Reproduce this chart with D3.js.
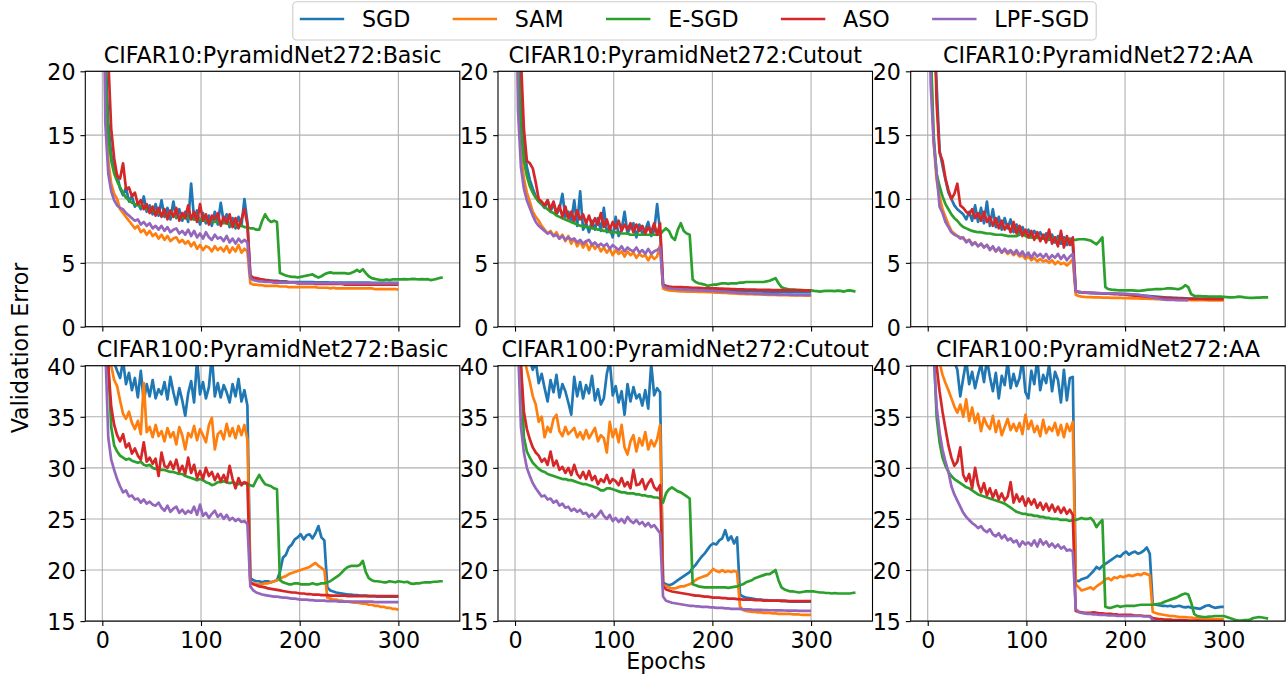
<!DOCTYPE html>
<html><head><meta charset="utf-8">
<script src="https://cdn.jsdelivr.net/npm/d3@7"></script>
<style>body{margin:0;background:#fff}</style>
</head><body>
<svg id="chart" width="1286" height="674"></svg>
<script>
// ---------------- data ----------------
const methods = ["SGD","SAM","E-SGD","ASO","LPF-SGD"];
const colors = ["#1f77b4","#ff7f0e","#2ca02c","#d62728","#9467bd"];
const titles = ["CIFAR10:PyramidNet272:Basic","CIFAR10:PyramidNet272:Cutout","CIFAR10:PyramidNet272:AA",
                "CIFAR100:PyramidNet272:Basic","CIFAR100:PyramidNet272:Cutout","CIFAR100:PyramidNet272:AA"];
const xTicks = [0,100,200,300];
const yTicksC10 = [0,5,10,15,20];
const yTicksC100 = [15,20,25,30,35,40];
const yDomainC10 = [0,20];
const yDomainC100 = [15,40];
const STEP = 3; // epochs between stored samples (value i is epoch 3*i)

// CIFAR10 Basic
const c10b_sgd = [45,22,16,13.5,12.2,11.9,10.8,10.3,10.9,9.8,
10.2,9.4,9.7,9.2,10.2,9.0,9.5,8.8,9.6,8.7,
9.9,8.6,9.3,8.4,9.8,8.5,9.2,8.3,9.0,8.2,
11.2,8.4,9.1,8.0,8.9,8.1,8.7,7.9,9.0,8.0,
9.7,8.2,8.8,7.8,8.5,7.7,8.6,7.9,10.0,8.2,
4.0,3.8,3.75,3.7,3.7,3.65,3.65,3.6,3.6,3.6,
3.55,3.55,3.55,3.5,3.5,3.5,3.5,3.5,3.5,3.5,
3.5,3.5,3.48,3.48,3.47,3.47,3.47,3.46,3.46,3.46,
3.45,3.45,3.45,3.45,3.45,3.45,3.45,3.45,3.45,3.45,
3.45,3.44,3.44,3.44,3.44,3.44,3.44,3.44,3.44,3.44,
3.44];
const c10b_sam = [42,18,13.0,11.2,10.4,10.0,9.2,8.9,8.6,8.3,
8.0,7.7,7.9,7.4,7.6,7.2,7.5,7.1,7.3,6.9,
7.2,6.8,7.1,6.7,6.9,7.0,6.6,6.8,6.5,6.7,
6.3,6.6,6.1,6.4,6.0,6.3,6.2,5.9,6.3,6.0,
6.2,5.9,6.3,5.8,6.2,5.9,6.4,5.8,6.1,5.9,
3.4,3.3,3.3,3.25,3.25,3.2,3.2,3.2,3.2,3.2,
3.15,3.15,3.15,3.1,3.1,3.1,3.1,3.1,3.1,3.1,
3.1,3.1,3.1,3.05,3.05,3.05,3.05,3.0,3.05,3.0,
3.0,3.0,3.0,3.0,3.0,3.0,3.0,3.0,3.0,3.0,
3.0,3.0,2.95,2.95,2.95,2.95,2.95,2.95,2.95,2.95,
2.9];
const c10b_esgd = [45,20,15,13.0,12.0,11.4,10.9,10.5,10.1,9.9,
9.7,9.6,9.5,9.4,9.3,9.2,9.1,9.1,9.0,8.9,
8.9,8.8,8.8,8.7,8.7,8.6,8.6,8.6,8.5,8.5,
8.5,8.4,8.4,8.4,8.3,8.3,8.3,8.2,8.2,8.2,
8.1,8.1,8.1,8.0,8.0,7.9,7.9,7.9,7.8,7.8,
7.7,7.7,7.6,7.6,8.3,8.8,8.4,8.2,8.3,8.2,
4.2,4.1,4.0,3.95,3.9,3.9,3.85,3.9,3.95,4.0,
4.05,4.1,3.95,3.85,3.95,4.1,4.2,4.25,4.2,4.2,
4.2,4.2,4.2,4.15,4.2,4.3,4.45,4.3,4.5,4.2,
3.95,3.8,3.75,3.7,3.65,3.65,3.7,3.65,3.7,3.7,
3.7,3.7,3.72,3.7,3.72,3.75,3.72,3.7,3.72,3.7,
3.72,3.65,3.7,3.75,3.82,3.85];
const c10b_aso = [50,30,21,15.5,13.2,11.8,11.6,12.8,10.8,10.9,
10.2,10.5,9.6,9.9,9.2,9.6,8.9,9.4,8.7,9.3,
8.6,9.2,8.4,9.1,8.6,9.3,8.3,8.9,8.5,9.5,
8.4,9.0,8.2,9.6,8.3,8.8,8.0,8.7,8.4,8.9,
7.9,8.6,8.1,8.8,7.8,8.5,7.7,8.4,9.2,8.0,
4.0,3.85,3.8,3.75,3.7,3.65,3.6,3.6,3.55,3.55,
3.5,3.5,3.5,3.45,3.45,3.45,3.4,3.4,3.4,3.4,
3.4,3.4,3.35,3.35,3.35,3.35,3.35,3.35,3.35,3.35,
3.35,3.35,3.3,3.3,3.3,3.3,3.3,3.3,3.3,3.3,
3.3,3.3,3.3,3.3,3.3,3.3,3.3,3.3,3.3,3.3,
3.3];
const c10b_lpf = [40,16,12.0,10.6,9.9,9.5,9.3,9.2,8.9,8.7,
8.5,8.3,8.4,8.0,8.2,7.9,8.1,7.7,7.9,7.6,
7.9,7.5,7.8,7.4,7.6,7.7,7.3,7.5,7.2,7.6,
7.1,7.5,7.0,7.3,6.9,7.4,7.0,6.8,7.2,6.9,
7.0,6.7,7.1,6.6,6.9,6.5,6.9,6.6,6.8,6.6,
3.8,3.65,3.6,3.55,3.55,3.5,3.5,3.5,3.45,3.45,
3.45,3.45,3.45,3.45,3.45,3.45,3.42,3.42,3.42,3.42,
3.42,3.42,3.42,3.42,3.42,3.42,3.42,3.42,3.42,3.42,
3.4,3.4,3.4,3.4,3.4,3.4,3.4,3.4,3.4,3.4,
3.4,3.4,3.4,3.4,3.4,3.4,3.4,3.4,3.4,3.4,
3.4];

// CIFAR10 Cutout
const c10c_sgd = [45,25,17,14,12.5,11.5,10.8,10.2,9.8,9.6,
9.3,9.9,9.0,9.7,8.8,9.2,10.4,8.6,9.0,8.2,
9.9,7.9,10.6,7.6,8.1,7.4,8.3,7.6,8.5,7.5,
9.3,7.4,7.8,7.0,8.6,7.1,7.6,9.0,7.3,7.8,
8.1,7.0,8.0,7.3,7.6,8.2,7.1,7.5,9.6,7.4,
3.3,3.15,3.1,3.05,3.05,3.0,3.0,3.0,2.98,2.97,
2.95,2.95,2.93,2.92,2.9,2.9,2.9,2.88,2.87,2.86,
2.85,2.85,2.84,2.83,2.82,2.82,2.8,2.8,2.79,2.78,
2.78,2.77,2.76,2.76,2.75,2.75,2.74,2.74,2.73,2.73,
2.72,2.72,2.72,2.71,2.71,2.7,2.7,2.7,2.7,2.7,
2.7];
const c10c_sam = [42,19,13.5,11.6,10.5,9.8,9.0,8.6,8.3,7.9,
7.6,7.3,7.5,7.1,7.4,6.9,7.2,6.7,7.1,6.5,
6.9,6.3,6.7,6.2,6.6,6.0,6.5,6.1,6.4,5.9,
6.2,5.8,6.1,5.6,6.0,5.7,5.9,5.5,5.9,5.6,
5.8,5.4,5.7,5.5,5.6,5.2,5.6,5.3,5.5,6.4,
3.0,2.9,2.85,2.82,2.8,2.78,2.77,2.76,2.75,2.75,
2.75,2.74,2.73,2.72,2.72,2.7,2.7,2.68,2.67,2.66,
2.65,2.64,2.62,2.6,2.6,2.58,2.57,2.56,2.55,2.55,
2.54,2.53,2.52,2.52,2.51,2.5,2.5,2.49,2.49,2.48,
2.48,2.47,2.47,2.46,2.46,2.45,2.45,2.45,2.44,2.44,
2.44];
const c10c_esgd = [45,22,15.5,13.0,11.8,11.0,10.5,10.1,9.8,9.6,
9.4,9.2,9.0,8.9,8.7,8.6,8.5,8.4,8.3,8.2,
8.1,8.0,7.9,7.9,7.8,7.8,7.7,7.7,7.6,7.6,
7.5,7.5,7.4,7.4,7.4,7.3,7.3,7.3,7.3,7.2,
7.2,7.2,7.2,7.2,7.2,7.2,7.2,7.2,7.2,7.2,
7.5,7.7,7.5,7.0,6.8,7.6,8.1,7.5,7.3,7.2,
3.7,3.5,3.4,3.35,3.3,3.2,3.25,3.3,3.3,3.35,
3.4,3.4,3.35,3.4,3.4,3.4,3.45,3.45,3.5,3.5,
3.5,3.5,3.5,3.5,3.5,3.55,3.6,3.7,3.8,3.4,
3.1,3.0,2.95,2.9,2.9,2.88,2.87,2.86,2.85,2.85,
2.85,2.8,2.78,2.75,2.78,2.8,2.8,2.8,2.78,2.82,
2.8,2.75,2.82,2.85,2.8,2.75];
const c10c_aso = [50,32,21,15.5,13.0,12.8,12.4,11.3,10.0,9.8,
9.5,9.9,9.2,9.8,8.9,9.5,8.6,9.4,8.5,9.0,
8.3,9.1,8.4,8.8,8.1,8.7,7.9,8.5,8.0,8.9,
7.8,8.4,7.6,8.2,7.7,8.3,7.5,8.0,7.6,8.1,
7.4,8.0,7.5,7.9,7.3,7.8,7.4,8.1,7.2,8.1,
3.3,3.2,3.15,3.12,3.1,3.1,3.1,3.08,3.08,3.07,
3.05,3.05,3.05,3.03,3.0,3.0,3.0,3.0,3.0,2.98,
2.98,2.97,2.96,2.95,2.94,2.93,2.92,2.92,2.91,2.9,
2.9,2.9,2.89,2.89,2.88,2.88,2.88,2.87,2.87,2.87,
2.87,2.86,2.86,2.86,2.86,2.86,2.86,2.85,2.85,2.85,
2.85];
const c10c_lpf = [40,17,12.5,10.8,9.9,9.3,8.7,8.2,7.9,7.7,
7.5,7.3,7.4,7.1,7.2,6.9,7.1,6.8,7.0,6.8,
6.9,6.6,6.8,6.5,6.7,6.8,6.4,6.6,6.3,6.5,
6.3,6.5,6.1,6.4,6.2,6.0,6.3,5.9,6.2,6.0,
5.9,6.2,5.8,6.0,5.7,6.1,5.7,5.9,6.0,6.2,
3.2,3.05,3.0,2.97,2.95,2.93,2.92,2.9,2.9,2.88,
2.87,2.86,2.85,2.84,2.83,2.82,2.8,2.8,2.78,2.77,
2.75,2.74,2.72,2.7,2.68,2.66,2.65,2.63,2.62,2.6,
2.6,2.59,2.58,2.57,2.56,2.55,2.55,2.54,2.53,2.53,
2.52,2.52,2.51,2.51,2.5,2.5,2.5,2.5,2.5,2.5,
2.5];

// CIFAR10 AA
const c10a_sgd = [60,35,24,19,13.8,12.6,11.5,10.5,10.0,9.5,
9.2,9.0,8.8,8.4,9.0,8.3,9.5,8.2,9.3,8.1,
9.8,7.9,9.2,7.8,8.6,7.6,8.5,7.7,8.4,7.4,
8.0,7.3,7.8,7.2,7.6,7.0,7.5,7.1,7.4,6.9,
7.3,6.8,7.2,6.6,7.1,6.5,7.0,6.4,6.9,6.3,
2.8,2.7,2.68,2.66,2.65,2.64,2.63,2.62,2.62,2.61,
2.6,2.6,2.6,2.6,2.58,2.57,2.56,2.55,2.54,2.52,
2.5,2.48,2.46,2.44,2.42,2.4,2.38,2.36,2.34,2.32,
2.3,2.28,2.27,2.26,2.25,2.24,2.23,2.22,2.21,2.2,
2.2,2.2,2.19,2.19,2.18,2.18,2.17,2.17,2.16,2.16,
2.15];
const c10a_sam = [44,21,14.5,11.5,10.2,9.2,8.6,8.0,7.5,7.3,
7.1,7.0,6.9,6.7,6.8,6.5,6.6,6.3,6.5,6.2,
6.4,6.1,6.2,5.9,6.1,5.8,6.0,5.7,5.9,5.6,
5.8,5.5,5.6,5.3,5.5,5.2,5.4,5.1,5.3,5.1,
5.2,5.0,5.2,4.9,5.1,4.9,5.0,4.8,5.0,5.3,
2.5,2.4,2.35,2.33,2.32,2.31,2.3,2.3,2.29,2.28,
2.28,2.27,2.26,2.26,2.25,2.25,2.24,2.24,2.23,2.22,
2.22,2.21,2.2,2.2,2.19,2.18,2.17,2.16,2.15,2.15,
2.14,2.13,2.12,2.12,2.11,2.1,2.1,2.09,2.09,2.08,
2.08,2.08,2.07,2.07,2.07,2.06,2.06,2.06,2.05,2.05,
2.05];
const c10a_esgd = [45,22,15,12.0,11.0,10.2,9.6,9.2,8.8,8.5,
8.3,8.0,7.8,7.7,7.6,7.5,7.45,7.4,7.4,7.35,
7.3,7.3,7.25,7.2,7.2,7.2,7.15,7.1,7.1,7.1,
7.1,7.2,7.4,7.1,7.0,7.0,7.0,6.95,6.95,6.9,
6.9,6.9,6.9,6.85,6.85,6.85,6.8,6.8,6.8,6.8,
6.8,6.85,6.85,6.85,6.8,6.75,6.6,6.45,6.7,7.0,
3.1,2.95,2.9,2.88,2.86,2.85,2.85,2.85,2.84,2.84,
2.82,2.8,2.82,2.85,2.88,2.9,2.92,2.95,2.95,2.95,
2.97,3.0,3.0,2.98,2.95,2.95,3.05,3.25,3.1,2.55,
2.42,2.4,2.4,2.38,2.37,2.36,2.36,2.35,2.35,2.35,
2.34,2.32,2.3,2.3,2.32,2.35,2.34,2.3,2.27,2.25,
2.25,2.27,2.28,2.3,2.3,2.3];
const c10a_aso = [55,38,26,17.5,13.6,13.0,11.6,10.7,10.0,10.4,
11.2,9.5,9.3,9.0,8.8,9.2,8.5,8.9,8.3,9.0,
8.2,8.6,7.9,8.5,7.7,8.3,7.6,8.0,7.4,8.2,
7.3,7.9,7.1,7.6,7.0,7.5,6.8,7.4,6.7,7.2,
6.6,7.6,6.5,7.0,6.3,7.5,6.2,7.1,6.4,7.0,
2.8,2.72,2.7,2.68,2.66,2.65,2.64,2.63,2.62,2.61,
2.6,2.58,2.56,2.55,2.54,2.53,2.52,2.5,2.48,2.46,
2.44,2.42,2.4,2.38,2.36,2.34,2.32,2.3,2.28,2.26,
2.25,2.24,2.23,2.22,2.21,2.2,2.2,2.19,2.19,2.18,
2.18,2.17,2.17,2.17,2.16,2.16,2.16,2.15,2.15,2.15,
2.15];
const c10a_lpf = [42,19,14.5,12.0,9.4,8.9,8.2,7.8,7.4,7.2,
7.1,6.9,7.0,6.6,6.8,6.4,6.6,6.3,6.5,6.2,
6.4,6.0,6.3,5.9,6.2,5.8,6.1,5.8,6.0,5.7,
6.0,5.6,5.9,5.5,5.8,5.4,5.8,5.5,5.7,5.4,
5.7,5.3,5.6,5.4,5.7,5.3,5.6,5.2,5.5,5.7,
2.8,2.72,2.7,2.68,2.66,2.65,2.65,2.64,2.63,2.62,
2.62,2.61,2.6,2.6,2.59,2.58,2.57,2.56,2.55,2.54,
2.52,2.5,2.47,2.43,2.4,2.35,2.3,2.25,2.2,2.15,
2.12,2.1,2.1,2.09,2.08,2.08,2.07,2.07,2.06];

// CIFAR100 Basic
const c100b_sgd = [90,60,47,42,40.3,39.5,38.8,40.5,38.2,39.3,
37.6,38.8,36.9,39.5,36.5,38.2,37.0,38.6,36.8,37.7,
37.2,38.4,36.7,38.9,37.4,36.2,37.8,36.6,35.1,37.3,
38.5,36.4,40.6,37.2,38.4,36.8,37.9,41.0,37.0,38.3,
36.9,38.1,37.4,36.4,38.2,37.0,38.7,36.5,37.6,36.1,
19.2,19.0,18.9,18.9,18.8,18.9,18.9,18.8,18.9,19.0,
19.8,21.2,21.5,22.2,22.5,23.0,23.2,23.5,23.0,23.4,
23.5,23.1,23.6,24.3,23.2,22.9,18.3,18.0,17.9,17.8,
17.75,17.7,17.65,17.6,17.6,17.55,17.55,17.5,17.5,17.5,
17.45,17.45,17.45,17.4,17.4,17.4,17.4,17.4,17.4,17.4,
17.4];
const c100b_sam = [80,52,43,40,38.6,38.0,36.6,35.3,34.8,35.5,
34.4,33.8,34.6,33.3,38.3,33.5,34.0,33.0,34.2,33.1,
33.6,32.6,33.9,33.0,33.5,32.3,34.0,33.2,31.8,33.4,
33.0,34.1,32.7,33.8,33.2,32.5,34.2,34.9,31.8,33.3,
33.6,32.8,34.3,33.1,33.9,32.9,34.1,33.2,34.2,32.8,
18.8,18.7,18.6,18.6,18.6,18.7,18.7,18.8,18.9,19.0,
19.1,19.3,19.4,19.6,19.7,19.8,19.9,20.0,20.1,20.2,
20.3,20.5,20.7,20.4,20.2,20.0,17.3,17.2,17.1,17.1,
17.0,17.0,16.9,16.9,16.85,16.8,16.8,16.75,16.7,16.7,
16.6,16.6,16.5,16.5,16.4,16.4,16.3,16.3,16.2,16.2,
16.1];
const c100b_esgd = [90,55,40,34.0,32.2,31.6,31.2,31.0,30.8,30.9,
30.7,30.6,30.5,30.6,30.3,30.2,30.3,30.0,29.9,29.9,
29.8,29.8,29.7,29.6,29.6,29.5,29.4,29.4,29.2,29.1,
29.0,28.9,28.8,28.9,28.8,28.6,28.5,28.3,28.4,28.6,
28.6,28.7,28.6,28.5,28.6,28.5,28.4,28.5,28.5,28.4,
28.3,28.2,28.8,29.3,28.8,28.4,28.3,28.2,28.0,27.9,
19.0,18.8,18.7,18.6,18.6,18.7,18.7,18.6,18.6,18.6,
18.6,18.7,18.6,18.6,18.7,18.7,18.8,18.9,19.1,19.3,
19.5,19.8,20.1,20.3,20.4,20.4,20.4,20.5,20.9,19.8,
19.2,19.0,18.9,18.9,18.85,18.8,18.8,18.9,18.85,18.8,
18.9,18.85,18.8,18.85,18.7,18.65,18.7,18.7,18.75,18.8,
18.8,18.8,18.85,18.85,18.9,18.9];
const c100b_aso = [90,55,40,36,34.2,33.2,32.6,33.3,32.0,32.4,
31.4,31.9,31.2,30.8,32.5,30.6,31.0,30.4,30.9,29.2,
31.5,30.2,30.0,30.6,29.9,30.8,29.6,30.2,29.4,31.0,
29.5,30.3,29.0,29.7,28.9,30.0,29.2,29.6,28.8,29.4,
28.7,29.3,28.6,30.2,28.9,28.0,29.0,28.3,28.6,28.5,
18.8,18.6,18.5,18.4,18.35,18.3,18.2,18.15,18.1,18.05,
18.0,17.95,17.9,17.85,17.8,17.8,17.75,17.7,17.7,17.65,
17.65,17.6,17.6,17.6,17.55,17.55,17.55,17.5,17.5,17.5,
17.5,17.5,17.5,17.45,17.45,17.45,17.45,17.45,17.45,17.45,
17.45,17.45,17.45,17.45,17.45,17.45,17.45,17.45,17.45,17.45,
17.45];
const c100b_lpf = [75,42,33,30.8,29.8,28.9,28.2,27.6,27.8,27.2,
27.3,26.9,27.0,26.6,26.9,26.5,26.7,26.4,26.3,26.6,
26.1,25.8,26.3,25.7,26.0,26.2,25.6,25.9,25.5,25.8,
25.6,26.2,25.4,26.4,25.3,25.6,25.1,25.5,25.8,25.2,
25.5,25.0,25.4,24.9,25.1,24.8,25.0,24.7,24.8,24.5,
18.4,18.0,17.8,17.7,17.6,17.55,17.5,17.45,17.4,17.4,
17.35,17.3,17.3,17.25,17.2,17.2,17.15,17.1,17.1,17.1,
17.05,17.05,17.0,17.0,17.0,17.0,16.95,16.95,16.95,16.95,
16.9,16.9,16.9,16.9,16.9,16.9,16.9,16.9,16.9,16.9,
16.9,16.9,16.85,16.85,16.85,16.85,16.85,16.85,16.85,16.85,
16.85];

// CIFAR100 Cutout
const c100c_sgd = [90,60,48,43,41,40.5,39.6,40.4,38.3,39.2,
37.8,36.5,38.6,37.4,39.1,36.9,38.2,37.5,36.4,35.2,
38.9,37.0,38.4,36.8,38.1,37.3,39.0,36.6,37.7,36.2,
36.8,39.2,40.5,37.1,38.0,36.4,37.5,35.2,38.2,36.5,
37.9,36.8,37.2,36.1,37.6,35.8,40.2,37.1,37.8,37.4,
18.8,18.6,18.5,18.6,18.8,19.0,19.2,19.4,19.6,19.8,
20.2,20.5,20.9,21.3,21.6,22.0,22.4,22.6,22.5,22.9,
23.1,23.9,22.9,23.3,22.6,23.2,17.6,17.4,17.3,17.25,
17.2,17.15,17.1,17.1,17.05,17.05,17.0,17.0,17.0,17.0,
16.95,16.95,16.95,16.9,16.9,16.9,16.9,16.9,16.9,16.9,
16.9];
const c100c_sam = [85,55,45,41,39.6,38.4,37.0,36.2,34.5,35.0,
33.0,34.0,33.5,34.8,35.2,33.6,33.1,34.0,33.3,33.6,
33.9,33.0,33.5,32.8,33.7,32.9,33.4,33.9,32.6,33.2,
32.9,31.5,34.5,33.0,33.8,32.5,34.2,32.0,31.3,32.6,
33.2,31.6,32.9,32.2,33.5,31.8,32.7,32.1,32.8,34.2,
18.6,18.4,18.3,18.2,18.2,18.3,18.4,18.4,18.5,18.6,
18.8,19.0,19.2,19.3,19.4,19.5,19.8,20.1,19.9,19.8,
20.0,19.8,19.9,19.8,19.9,19.8,16.4,16.1,16.0,15.95,
15.9,15.9,15.85,15.85,15.8,15.8,15.8,15.75,15.75,15.7,
15.7,15.7,15.7,15.7,15.65,15.65,15.65,15.6,15.6,15.6,
15.6];
const c100c_esgd = [90,55,40,33.0,31.6,31.0,30.5,30.2,29.9,29.7,
29.6,29.4,29.3,29.2,29.1,29.0,28.9,28.9,28.8,28.8,
28.7,28.6,28.5,28.4,28.4,28.3,28.2,28.1,28.0,27.8,
27.8,28.0,28.0,27.9,27.8,27.7,27.6,27.6,27.5,27.5,
27.5,27.4,27.4,27.3,27.3,27.2,27.2,27.1,27.1,27.0,
26.6,27.5,27.9,28.1,27.9,27.7,27.6,27.4,27.2,27.0,
18.6,18.5,18.4,18.35,18.3,18.3,18.3,18.3,18.3,18.3,
18.3,18.3,18.25,18.3,18.35,18.4,18.5,18.6,18.8,18.9,
19.0,19.2,19.3,19.4,19.5,19.6,19.6,19.8,20.0,19.0,
18.3,18.1,18.0,17.9,17.9,17.85,17.8,17.85,17.9,17.9,
17.9,17.9,17.85,17.8,17.8,17.75,17.75,17.7,17.75,17.7,
17.7,17.7,17.7,17.7,17.75,17.8];
const c100c_aso = [90,55,40,35.5,33.8,32.8,32.0,31.5,31.2,30.6,
30.9,30.3,31.6,30.2,30.7,29.8,30.1,29.5,30.0,29.3,
30.3,29.4,29.0,29.6,28.9,29.7,28.8,29.2,28.4,28.9,
28.6,29.3,28.5,28.9,28.7,28.3,29.0,28.2,28.6,28.0,
29.8,28.3,28.4,28.9,27.9,28.5,28.9,28.1,27.8,28.3,
18.4,18.1,18.0,17.9,17.85,17.8,17.75,17.7,17.65,17.6,
17.55,17.5,17.5,17.45,17.4,17.4,17.35,17.3,17.3,17.3,
17.25,17.25,17.2,17.2,17.2,17.15,17.15,17.1,17.1,17.1,
17.1,17.05,17.05,17.05,17.0,17.0,17.0,17.0,17.0,17.0,
17.0,17.0,16.95,16.95,16.95,16.95,16.95,16.95,16.95,16.95,
16.95];
const c100c_lpf = [75,42,34,31.5,30.0,29.2,28.5,28.0,27.6,27.2,
27.3,26.9,27.0,26.6,26.8,26.3,26.5,26.1,26.2,25.8,
26.0,25.7,25.9,25.5,25.6,25.2,25.5,25.1,25.4,25.8,
25.3,25.0,25.4,24.8,25.1,24.7,25.0,24.6,25.2,24.8,
24.6,24.9,24.5,24.7,24.3,24.6,24.2,24.4,24.0,23.6,
17.4,17.0,16.9,16.8,16.75,16.7,16.65,16.6,16.55,16.5,
16.5,16.45,16.45,16.4,16.4,16.4,16.35,16.35,16.3,16.3,
16.3,16.25,16.25,16.2,16.2,16.2,16.2,16.15,16.15,16.15,
16.12,16.1,16.1,16.1,16.08,16.08,16.06,16.06,16.05,16.05,
16.05,16.04,16.03,16.03,16.02,16.02,16.01,16.0,16.0,16.0,
16.0];

// CIFAR100 AA
const c100a_sgd = [90,65,52,46,43,42,41.3,40.6,41.2,40.4,
39.6,37.0,38.8,40.5,38.2,39.4,37.8,39.1,40.2,38.4,
40.6,38.9,37.5,39.3,36.8,39.0,38.1,40.4,37.8,39.2,
38.0,38.8,40.6,37.4,36.8,39.5,38.2,40.7,37.6,39.1,
38.3,40.1,37.5,39.4,38.6,36.4,39.6,36.6,38.8,38.9,
19.0,18.9,19.1,19.2,19.3,19.6,19.9,20.3,20.1,20.4,
20.6,20.8,21.0,21.2,21.4,21.3,21.6,21.8,21.5,21.7,
21.8,21.6,21.7,21.9,22.2,21.6,16.7,16.6,16.55,16.5,
16.5,16.45,16.5,16.4,16.45,16.5,16.4,16.35,16.4,16.3,
16.3,16.25,16.2,16.35,16.5,16.55,16.4,16.3,16.35,16.4,
16.4];
const c100a_sam = [85,58,46,42,40.3,39.1,38.3,37.6,36.8,36.0,
35.4,36.2,35.0,36.7,34.6,35.9,34.4,35.3,33.6,34.9,
34.2,33.8,35.1,33.5,34.6,33.2,34.0,34.8,33.7,34.3,
33.6,34.4,33.3,35.2,33.8,34.6,33.5,34.1,33.1,34.7,
33.4,34.0,33.6,34.4,33.2,34.2,33.0,34.3,33.6,34.5,
18.6,18.3,18.0,18.1,18.2,18.3,18.1,18.4,18.6,18.8,
19.1,19.2,19.0,19.3,19.2,19.4,19.3,19.4,19.5,19.4,
19.5,19.6,19.5,19.7,19.6,19.5,15.9,15.8,15.7,15.65,
15.6,15.55,15.5,15.5,15.45,15.4,15.4,15.4,15.35,15.35,
15.3,15.3,15.3,15.25,15.25,15.25,15.2,15.2,15.2,15.2,
15.2];
const c100a_esgd = [90,56,42,35.0,32.5,31.0,30.2,29.6,29.2,28.9,
28.7,28.5,28.3,28.1,28.0,27.8,27.6,27.4,27.3,27.2,
27.1,27.0,26.9,26.8,26.7,26.6,26.5,26.3,26.1,25.9,
25.7,25.6,25.5,25.5,25.4,25.4,25.3,25.3,25.2,25.2,
25.1,25.1,25.0,25.0,25.0,24.9,24.9,24.9,24.8,24.9,
24.9,25.0,25.1,25.0,25.0,25.1,24.8,24.2,24.6,24.9,
16.4,16.3,16.3,16.4,16.5,16.4,16.45,16.5,16.5,16.5,
16.5,16.55,16.6,16.6,16.6,16.6,16.6,16.65,16.7,16.75,
16.9,17.0,17.1,17.2,17.3,17.45,17.6,17.7,17.6,16.8,
15.7,15.5,15.45,15.4,15.4,15.45,15.45,15.5,15.5,15.5,
15.5,15.4,15.3,15.2,15.1,15.05,15.05,15.1,15.1,15.15,
15.3,15.35,15.4,15.35,15.3,15.25];
const c100a_aso = [90,62,48,40.0,37.5,35.5,33.8,32.2,31.0,30.2,
30.6,32.0,29.3,28.7,29.4,28.0,30.0,28.4,27.6,28.5,
27.3,28.0,27.1,27.8,26.9,27.5,26.8,27.2,28.6,26.6,
27.4,26.7,27.2,26.3,27.0,26.4,26.9,26.1,26.6,25.9,
26.5,25.8,26.4,25.7,26.2,25.6,26.1,25.5,25.9,25.4,
16.0,15.9,15.85,15.8,15.8,15.8,15.85,15.8,15.75,15.75,
15.7,15.7,15.7,15.65,15.65,15.6,15.6,15.6,15.6,15.6,
15.55,15.55,15.55,15.5,15.5,15.5,15.3,15.25,15.2,15.2,
15.15,15.15,15.15,15.1,15.1,15.1,15.1,15.1,15.05,15.05,
15.05,15.05,15.05,15.0,15.0,15.0,15.0,15.0,15.0,15.0,
15.0];
const c100a_lpf = [75,50,41,36,33.5,31.8,30.6,29.6,28.2,27.4,
26.8,26.2,25.6,25.2,24.9,24.6,24.4,24.1,24.3,23.9,
23.7,24.0,23.5,23.3,23.6,23.1,23.4,22.9,23.1,22.7,
22.9,22.3,22.8,22.5,22.7,22.4,22.9,22.3,23.0,22.5,
22.8,22.3,22.6,22.2,22.5,22.1,22.3,21.9,22.0,21.8,
16.2,15.9,15.8,15.75,15.7,15.7,15.65,15.65,15.6,15.6,
15.6,15.55,15.55,15.55,15.5,15.5,15.5,15.5,15.5,15.5,
15.5,15.5,15.5,15.45,15.45,15.45,15.1,14.95,14.9,14.85,
14.85,14.8,14.8,14.8,14.8,14.8,14.8,14.8,14.8,14.8,
14.8,14.8,14.8,14.8,14.8,14.8,14.8,14.8,14.8,14.8,
14.8];

// ---------------- layout ----------------
const FS = 22.2;
const FONT = "DejaVu Sans, sans-serif";
const W = 374.5, H = 255.4;
const colLeft = [85.3, 498, 910.7];
const rowTop = [71.3, 365.7];
const xDomain = [-17.25, 362.25];

const panels = [
  {row:0,col:0,series:[c10b_sgd,c10b_sam,c10b_esgd,c10b_aso,c10b_lpf]},
  {row:0,col:1,series:[c10c_sgd,c10c_sam,c10c_esgd,c10c_aso,c10c_lpf]},
  {row:0,col:2,series:[c10a_sgd,c10a_sam,c10a_esgd,c10a_aso,c10a_lpf]},
  {row:1,col:0,series:[c100b_sgd,c100b_sam,c100b_esgd,c100b_aso,c100b_lpf]},
  {row:1,col:1,series:[c100c_sgd,c100c_sam,c100c_esgd,c100c_aso,c100c_lpf]},
  {row:1,col:2,series:[c100a_sgd,c100a_sam,c100a_esgd,c100a_aso,c100a_lpf]}
];

const svg = d3.select("#chart");
svg.append("rect").attr("width",1286).attr("height",674).attr("fill","#fff");
const defs = svg.append("defs");

panels.forEach((p, pi) => {
  const x0 = colLeft[p.col], y0 = rowTop[p.row];
  const x = d3.scaleLinear().domain(xDomain).range([x0, x0 + W]);
  const y = d3.scaleLinear().domain(p.row === 0 ? yDomainC10 : yDomainC100).range([y0 + H, y0]);
  const yt = p.row === 0 ? yTicksC10 : yTicksC100;
  const g = svg.append("g");

  // grid
  g.append("g").selectAll("line").data(xTicks).enter().append("line")
    .attr("x1", d => x(d)).attr("x2", d => x(d)).attr("y1", y0).attr("y2", y0 + H)
    .attr("stroke", "#b0b0b0").attr("stroke-width", 1.1);
  g.append("g").selectAll("line").data(yt).enter().append("line")
    .attr("x1", x0).attr("x2", x0 + W).attr("y1", d => y(d)).attr("y2", d => y(d))
    .attr("stroke", "#b0b0b0").attr("stroke-width", 1.1);

  // lines
  defs.append("clipPath").attr("id", "clip" + pi).append("rect")
    .attr("x", x0).attr("y", y0).attr("width", W).attr("height", H);
  const lg = g.append("g").attr("clip-path", `url(#clip${pi})`);
  const line = d3.line().x((d, i) => x(i * STEP)).y(d => y(d));
  p.series.forEach((s, si) => {
    lg.append("path").datum(s).attr("d", line)
      .attr("fill", "none").attr("stroke", colors[si]).attr("stroke-width", 2.7)
      .attr("stroke-linejoin", "round").attr("stroke-linecap", "butt");
  });

  // spines
  g.append("rect").attr("x", x0).attr("y", y0).attr("width", W).attr("height", H)
    .attr("fill", "none").attr("stroke", "#000").attr("stroke-width", 1.1);

  // axes
  const xa = d3.axisBottom(x).tickValues(xTicks).tickSize(4.86).tickPadding(4.86);
  if (p.row === 0) xa.tickFormat("");
  const gx = g.append("g").attr("transform", `translate(0,${y0 + H})`).call(xa);
  const ya = d3.axisLeft(y).tickValues(yt).tickSize(4.86).tickPadding(4.86);
  const gy = g.append("g").attr("transform", `translate(${x0},0)`).call(ya);
  [gx, gy].forEach(a => {
    a.attr("font-size", FS).attr("font-family", FONT);
    a.select(".domain").remove();
    a.selectAll("line").attr("stroke", "#000").attr("stroke-width", 1.1);
    a.selectAll("text").attr("fill", "#000");
  });
  gx.selectAll("text").attr("dy", "0.79em");
  gy.selectAll("text").attr("dy", "0.39em");

  // title
  svg.append("text").attr("x", x0 + W / 2).attr("y", y0 - 8.4)
    .attr("text-anchor", "middle").attr("font-size", FS).attr("font-family", FONT)
    .attr("fill", "#000").text(titles[pi]);
});

// axis labels
svg.append("text").attr("transform", "translate(28,348) rotate(-90)")
  .attr("text-anchor", "middle").attr("font-size", FS).attr("font-family", FONT)
  .attr("fill", "#000").text("Validation Error");
svg.append("text").attr("x", 666).attr("y", 668.5)
  .attr("text-anchor", "middle").attr("font-size", FS).attr("font-family", FONT)
  .attr("fill", "#000").text("Epochs");

// legend
const legG = svg.append("g");
const box = legG.append("rect");
const handleLen = 44.4, handlePad = 17.8, colSpace = 42.3;
const items = methods.map((m, i) => {
  const t = legG.append("text").attr("font-size", FS).attr("font-family", FONT)
    .attr("fill", "#000").attr("y", 26.7).text(m);
  return {t, w: t.node().getComputedTextLength(), i};
});
const total = d3.sum(items, d => handleLen + handlePad + d.w) + colSpace * (items.length - 1);
let cx = 694.5 - total / 2;
const start = cx;
items.forEach(d => {
  legG.append("line").attr("x1", cx).attr("x2", cx + handleLen).attr("y1", 19).attr("y2", 19)
    .attr("stroke", colors[d.i]).attr("stroke-width", 2.7);
  d.t.attr("x", cx + handleLen + handlePad);
  cx += handleLen + handlePad + d.w + colSpace;
});
box.attr("x", start - 7).attr("y", 1.7).attr("width", total + 14).attr("height", 38.3)
  .attr("rx", 4).attr("ry", 4).attr("fill", "#fff").attr("fill-opacity", 0.8)
  .attr("stroke", "#cccccc").attr("stroke-width", 1.1);
</script>
</body></html>
